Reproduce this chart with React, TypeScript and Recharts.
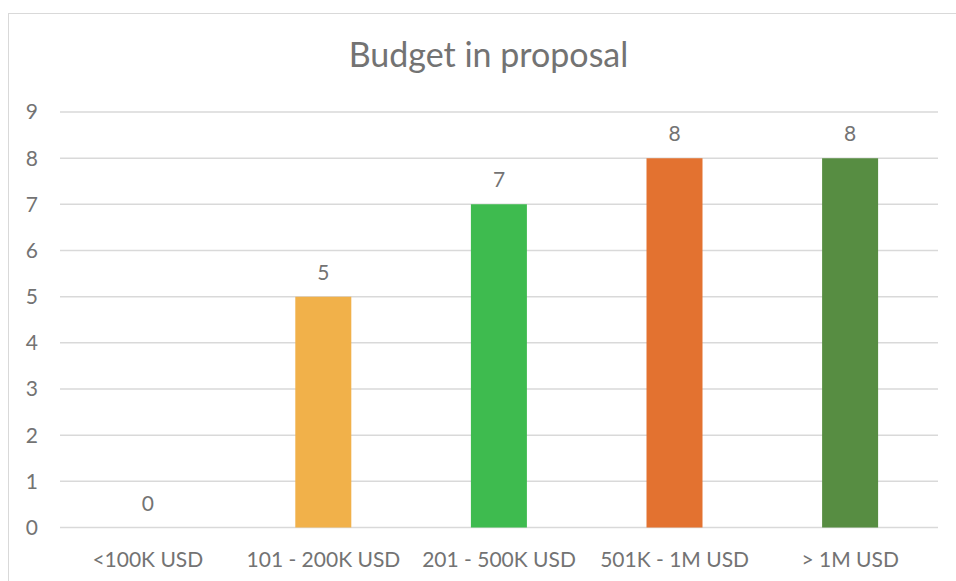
import { ComposedChart, Bar, Line, XAxis, YAxis, CartesianGrid, LabelList, Cell } from 'recharts';

const categories = ['<100K USD', '101 - 200K USD', '201 - 500K USD', '501K - 1M USD', '> 1M USD'];
const counts = [0, 5, 7, 8, 8];
const barColors = ['#4472C4', '#F1B14A', '#3EBB4F', '#E37230', '#578D42'];
const yTicks = [0, 1, 2, 3, 4, 5, 6, 7, 8, 9];

const data = categories.map((name, i) => ({ name, value: counts[i] }));

const font = 'Lato, "Open Sans", sans-serif';
const textColor = '#737373';

export default function App() {
  return (
    <div style={{ position: 'absolute', left: 0, top: 0, width: 956, height: 581, overflow: 'hidden', background: '#fff' }}>
      <div
        style={{
          position: 'absolute',
          left: 8,
          top: 13,
          width: 980,
          height: 620,
          border: '1px solid #d9d9d9',
        }}
      />
      <div
        style={{
          position: 'absolute',
          left: 8,
          width: 961,
          top: 34,
          textAlign: 'center',
          fontFamily: font,
          fontSize: 34,
          lineHeight: '40.8px',
          color: textColor,
        }}
      >
        Budget in proposal
      </div>
      <ComposedChart
        width={956}
        height={581}
        data={data}
        margin={{ top: 112, right: 18, bottom: 0, left: 0 }}
        barCategoryGap="34%"
        style={{ position: 'absolute', left: 0, top: 0 }}
      >
        <CartesianGrid vertical={false} stroke="#d9d9d9" strokeWidth={1.5} />
        <XAxis
          dataKey="name"
          height={53.5}
          axisLine={false}
          tickLine={false}
          tickSize={0}
          tickMargin={25}
          interval={0}
          tick={{ fill: textColor, fontSize: 21, fontFamily: font }}
        />
        <YAxis
          width={60}
          domain={[0, 9]}
          ticks={yTicks}
          axisLine={false}
          tickLine={false}
          tickSize={0}
          tickMargin={22}
          tick={{ fill: textColor, fontSize: 21, fontFamily: font }}
        />
        <Bar dataKey="value" isAnimationActive={false}>
          {data.map((d, i) => (
            <Cell key={d.name} fill={barColors[i]} />
          ))}
        </Bar>
        {/* invisible line just to carry the value labels (so the 0 gets one too) */}
        <Line
          dataKey="value"
          stroke="none"
          dot={false}
          activeDot={false}
          isAnimationActive={false}
        >
          <LabelList
            dataKey="value"
            position="top"
            offset={17}
            fill={textColor}
            fontSize={21}
            fontFamily={font}
          />
        </Line>
      </ComposedChart>
    </div>
  );
}
